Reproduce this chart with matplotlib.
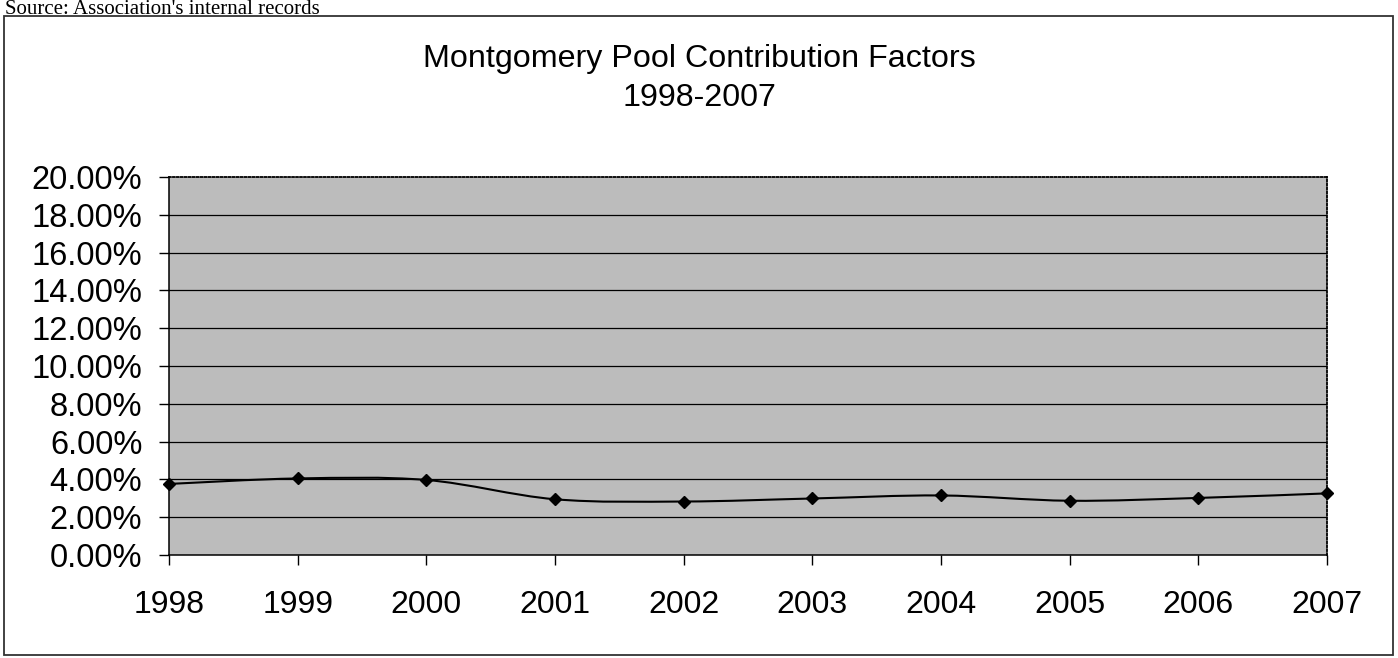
import matplotlib
matplotlib.use("Agg")
import matplotlib.pyplot as plt
from matplotlib.path import Path
from matplotlib.patches import PathPatch, Rectangle
from matplotlib.ticker import FuncFormatter
import numpy as np

years = [1998, 1999, 2000, 2001, 2002, 2003, 2004, 2005, 2006, 2007]
factors = [3.76, 4.05, 3.97, 2.95, 2.83, 2.99, 3.15, 2.87, 3.02, 3.26]  # percent
y_ticks = [0, 2, 4, 6, 8, 10, 12, 14, 16, 18, 20]
title_line1 = "Montgomery Pool Contribution Factors"
title_line2 = "1998-2007"
source = "Source: Association's internal records"

W, H = 1398, 658
fig = plt.figure(figsize=(W / 100, H / 100), dpi=100)
fig.patch.set_facecolor("white")

# outer chart frame
fig.patches.append(Rectangle((4 / W, 1 - 655 / H), (1393 - 4) / W, (655 - 16) / H,
                             transform=fig.transFigure, fill=False,
                             edgecolor="#333333", linewidth=1.3))
fig.text(5 / W, 1 - 14 / H, source, family="Liberation Serif", fontsize=15,
         ha="left", va="baseline", color="black")

fig.text(0.5, 1 - 67 / H, title_line1, family="Liberation Sans", fontsize=23.2,
         ha="center", va="baseline")
fig.text(0.5, 1 - 106 / H, title_line2, family="Liberation Sans", fontsize=23.2,
         ha="center", va="baseline")

ax = fig.add_axes([169 / W, 1 - 555 / H, (1327 - 169) / W, (555 - 177) / H])
ax.set_facecolor("#bcbcbc")
x = np.arange(len(years))
ax.set_xlim(0, len(years) - 1)
ax.set_ylim(0, 20)
ax.set_yticks(y_ticks)
ax.yaxis.set_major_formatter(FuncFormatter(lambda v, p: f"{v:.2f}%"))
ax.set_xticks(x)
ax.set_xticklabels([str(y) for y in years])
for v in y_ticks[1:-1]:
    ax.axhline(v, color="black", linewidth=0.9, zorder=1)

ax.tick_params(axis="y", length=7.2, width=1, pad=12, labelsize=23.5,
               direction="out")
ax.tick_params(axis="x", length=7.2, width=1, pad=18, labelsize=23)
for lab in ax.get_xticklabels() + ax.get_yticklabels():
    lab.set_family("Liberation Sans")

for side in ["left", "bottom"]:
    ax.spines[side].set_linewidth(1.1)
for side in ["top", "right"]:
    ax.spines[side].set_linestyle((0, (1, 1.2)))
    ax.spines[side].set_linewidth(1.3)

# smoothed line (Excel-style Bezier through the data points)
pts = np.column_stack([x, factors]).astype(float)
n = len(pts)
verts = [pts[0]]
codes = [Path.MOVETO]
for i in range(n - 1):
    p0 = pts[i - 1] if i > 0 else pts[i]
    p1 = pts[i]
    p2 = pts[i + 1]
    p3 = pts[i + 2] if i + 2 < n else pts[i + 1]
    c1 = p1 + (p2 - p0) / 6.0
    c2 = p2 - (p3 - p1) / 6.0
    verts += [c1, c2, p2]
    codes += [Path.CURVE4] * 3
ax.add_patch(PathPatch(Path(verts, codes), fill=False, edgecolor="black",
                       linewidth=1.5, zorder=3, clip_on=False))
ax.plot(x, factors, linestyle="none", marker="D", markersize=6,
        color="black", zorder=4, clip_on=False)

fig.savefig("out.png", dpi=100)
